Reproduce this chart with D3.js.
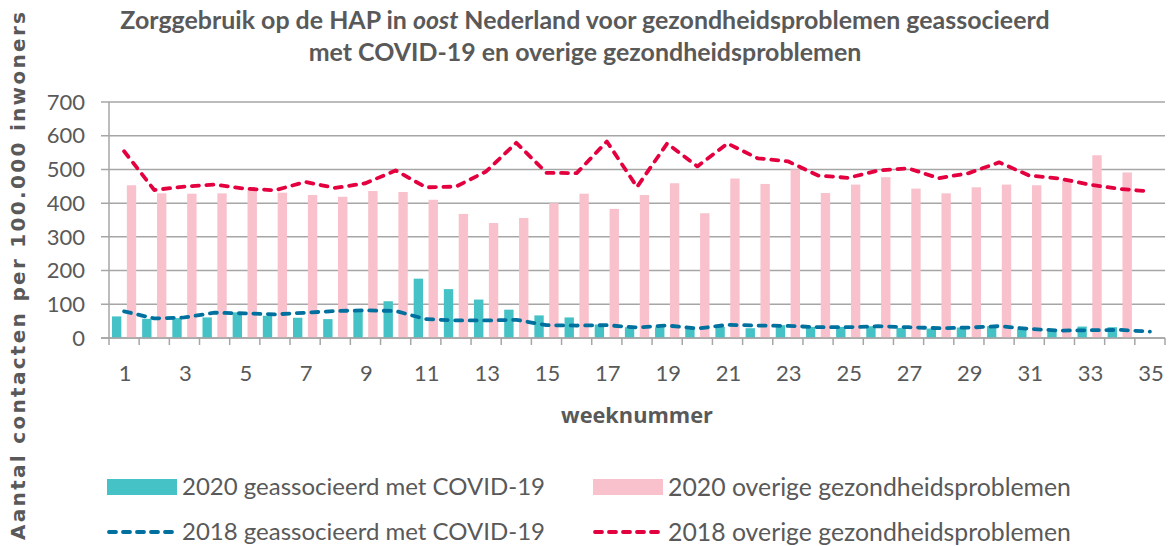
<!DOCTYPE html>
<html>
<head>
<meta charset="utf-8">
<script src="https://cdn.jsdelivr.net/npm/d3@7"></script>
<style>
  html, body { margin: 0; padding: 0; background: #ffffff; }
  svg { display: block; }
</style>
</head>
<body>
<svg id="chart" width="1171" height="546"></svg>
<script>
// ---- data ----
const weeks = ["1","2","3","4","5","6","7","8","9","10","11","12","13","14","15","16","17","18","19","20","21","22","23","24","25","26","27","28","29","30","31","32","33","34","35"];
const covid2020 = [64,57,59,61,76,66,60,56,84,109,176,145,114,84,67,61,40,32,32,27,33,29,38,33,33,35,30,28,31,35,27,26,34,32,null];
const overig2020 = [453,429,428,429,443,431,424,419,436,433,410,368,341,356,400,428,383,424,459,370,473,457,500,430,455,477,443,429,447,455,453,468,542,491,null];
const covid2018 = [79,58,61,75,73,70,75,80,82,80,56,52,52,54,38,37,38,31,37,28,39,37,36,32,32,35,32,29,31,35,27,22,23,24,19];
const overig2018 = [554,439,449,455,443,438,463,445,459,497,447,449,494,579,490,489,583,448,577,509,577,533,524,482,475,497,503,474,489,521,482,473,455,442,435];
const yTicks = [0,100,200,300,400,500,600,700];
const xTickLabels = ["1","3","5","7","9","11","13","15","17","19","21","23","25","27","29","31","33","35"];
const barSeries = ["2020 geassocieerd met COVID-19", "2020 overige gezondheidsproblemen"];
const lineSeries = ["2018 geassocieerd met COVID-19", "2018 overige gezondheidsproblemen"];
const titleLine1 = ["Zorggebruik op de HAP in ", "oost", " Nederland voor gezondheidsproblemen geassocieerd"];
const titleLine2 = "met COVID-19 en overige gezondheidsproblemen";
const yTitle = "Aantal contacten per 100.000 inwoners";
const xTitle = "weeknummer";

// ---- styles ----
const C_TEAL = "#45C2C6", C_PINK = "#F8C1CC", C_RED = "#E4003F", C_BLUE = "#00709E";
const C_TEXT = "#595959", C_GRID = "#A6A6A6";

const svg = d3.select("#chart");
const pLeft = 109, pRight = 1165, pTop = 102, pBottom = 338;

const x = d3.scaleBand().domain(weeks).range([pLeft, pRight]).paddingInner(0).paddingOuter(0);
const x1 = d3.scaleBand().domain(barSeries).range([0, x.bandwidth()]).paddingInner(0.37).paddingOuter(0.2);
const y = d3.scaleLinear().domain([0, 700]).range([pBottom, pTop]);

function fit(sel, target) {
  const node = sel.node();
  const size = parseFloat(sel.attr("font-size"));
  const len = node.getComputedTextLength();
  const ns = size * target / len;
  sel.attr("font-size", ns);
  return ns;
}

// gridlines
svg.append("g").selectAll("line").data(yTicks).join("line")
  .attr("x1", pLeft - 8).attr("x2", pRight)
  .attr("y1", d => y(d)).attr("y2", d => y(d))
  .attr("stroke", C_GRID).attr("stroke-width", 1.5);

// y axis line
svg.append("line").attr("x1", pLeft).attr("x2", pLeft).attr("y1", y(700)).attr("y2", y(0))
  .attr("stroke", C_GRID).attr("stroke-width", 1.5);

// x tick marks at boundaries
const bounds = weeks.map(w => x(w)).concat([x(weeks[weeks.length - 1]) + x.bandwidth()]);
svg.append("g").selectAll("line").data(bounds).join("line")
  .attr("x1", d => d).attr("x2", d => d).attr("y1", y(0)).attr("y2", y(0) + 7)
  .attr("stroke", C_GRID).attr("stroke-width", 1.5);

// y labels
svg.append("g").selectAll("text").data(yTicks).join("text")
  .attr("x", 85).attr("y", d => y(d)).attr("dy", "0.35em")
  .attr("text-anchor", "end").attr("font-family", "Lato, sans-serif").attr("font-size", 22)
  .attr("fill", C_TEXT).text(d => d);

// x labels
svg.append("g").selectAll("text").data(xTickLabels).join("text")
  .attr("x", d => x(d) + x.bandwidth() / 2 + 1).attr("y", 381)
  .attr("text-anchor", "middle").attr("font-family", "Lato, sans-serif").attr("font-size", 22)
  .attr("fill", C_TEXT).text(d => d);

// bars
const barData = [];
weeks.forEach((w, i) => {
  if (covid2020[i] != null) barData.push({w, s: barSeries[0], v: covid2020[i], c: C_TEAL});
  if (overig2020[i] != null) barData.push({w, s: barSeries[1], v: overig2020[i], c: C_PINK});
});
svg.append("g").selectAll("rect").data(barData).join("rect")
  .attr("x", d => x(d.w) + x1(d.s)).attr("width", x1.bandwidth())
  .attr("y", d => y(d.v)).attr("height", d => y(0) - y(d.v))
  .attr("fill", d => d.c);

// x axis baseline over bars
svg.append("line").attr("x1", pLeft - 8).attr("x2", pRight).attr("y1", y(0)).attr("y2", y(0))
  .attr("stroke", C_GRID).attr("stroke-width", 1.5);

// lines (straight segments)
const line = d3.line()
  .x((d, i) => x(weeks[i]) + x.bandwidth() / 2)
  .y(d => y(d))
  .curve(d3.curveLinear);
[[covid2018, C_BLUE], [overig2018, C_RED]].forEach(([vals, col]) => {
  svg.append("path").attr("d", line(vals))
    .attr("fill", "none").attr("stroke", col).attr("stroke-width", 3.8)
    .attr("stroke-dasharray", "7,7.5").attr("stroke-linecap", "round").attr("stroke-linejoin", "round");
});

// title
const t1 = svg.append("text").attr("x", 585).attr("y", 29).attr("text-anchor", "middle")
  .attr("font-family", "Lato, sans-serif").attr("font-weight", "bold").attr("font-size", 20)
  .attr("fill", C_TEXT);
titleLine1.forEach((s, i) => t1.append("tspan").attr("font-style", i === 1 ? "italic" : "normal").text(s));
const tsize = fit(t1, 930);
svg.append("text").attr("x", 585).attr("y", 61).attr("text-anchor", "middle")
  .attr("font-family", "Lato, sans-serif").attr("font-weight", "bold").attr("font-size", tsize)
  .attr("fill", C_TEXT).text(titleLine2);

// axis titles
const yt = svg.append("text").attr("transform", "translate(25,276) rotate(-90)")
  .attr("text-anchor", "middle").attr("font-family", "'DejaVu Sans', sans-serif").attr("font-weight", "bold")
  .attr("font-size", 19).attr("fill", C_TEXT).text(yTitle);
const ytSize = fit(yt, 528);
if (ytSize > 20) { yt.attr("font-size", 20).attr("textLength", 528).attr("lengthAdjust", "spacing"); }
const xt = svg.append("text").attr("x", 637).attr("y", 423).attr("text-anchor", "middle")
  .attr("font-family", "'Open Sans', sans-serif").attr("font-weight", "bold")
  .attr("font-size", 20).attr("fill", C_TEXT).text(xTitle);
fit(xt, 152);

// legend
const legItems = [
  {label: barSeries[0], type: "rect", c: C_TEAL, x: 107, y: 487, w: 363},
  {label: barSeries[1], type: "rect", c: C_PINK, x: 593, y: 487, w: 403},
  {label: lineSeries[0], type: "line", c: C_BLUE, x: 107, y: 532, w: 363},
  {label: lineSeries[1], type: "line", c: C_RED, x: 593, y: 532, w: 403}
];
const lg = svg.append("g");
legItems.forEach(it => {
  if (it.type === "rect") {
    lg.append("rect").attr("x", it.x).attr("y", it.y - 8).attr("width", 70).attr("height", 16).attr("fill", it.c);
  } else {
    lg.append("line").attr("x1", it.x + 2).attr("x2", it.x + 70).attr("y1", it.y).attr("y2", it.y)
      .attr("stroke", it.c).attr("stroke-width", 3.8).attr("stroke-dasharray", "7,7").attr("stroke-linecap", "round");
  }
  const t = lg.append("text").attr("x", it.x + 75).attr("y", it.y).attr("dy", "0.35em")
    .attr("font-family", "Lato, sans-serif").attr("font-size", 22).attr("fill", C_TEXT).text(it.label);
  fit(t, it.w);
});
</script>
</body>
</html>
